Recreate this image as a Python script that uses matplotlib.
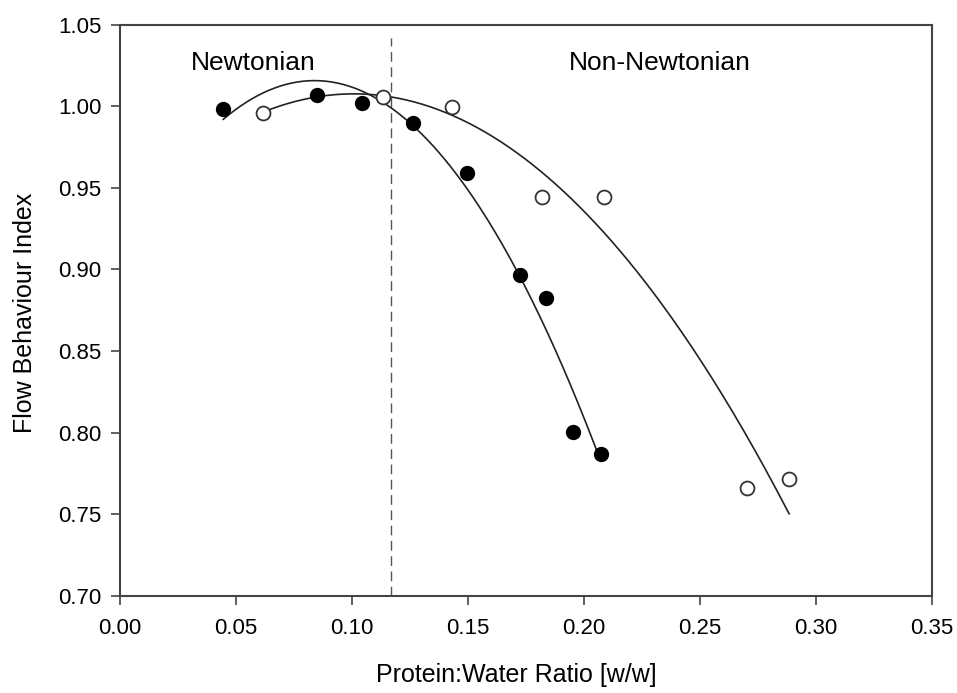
import numpy as np
import matplotlib
matplotlib.use("Agg")
import matplotlib.pyplot as plt

plt.rcParams['font.family'] = ['Liberation Sans', 'DejaVu Sans']

# Filled series
filled_x = [0.0445, 0.0848, 0.1042, 0.1262, 0.1494, 0.1724, 0.1836, 0.1951, 0.2072]
filled_y = [0.998, 1.0068, 1.0021, 0.9895, 0.9592, 0.8966, 0.8827, 0.8006, 0.7868]
# Open series
open_x = [0.0618, 0.1135, 0.1430, 0.1820, 0.2086, 0.2701, 0.2884]
open_y = [0.9956, 1.0054, 0.9997, 0.9446, 0.9446, 0.7660, 0.7717]

boundary_x = 0.1166
region_labels = ["Newtonian", "Non-Newtonian"]
xticks = [0.00, 0.05, 0.10, 0.15, 0.20, 0.25, 0.30, 0.35]
yticks = [0.70, 0.75, 0.80, 0.85, 0.90, 0.95, 1.00, 1.05]

fig = plt.figure(figsize=(9.57, 6.93), dpi=100)
ax = fig.add_axes([0.1254, 0.14, 0.8485, 0.8246])

def fit_curve(x, y):
    c = np.polyfit(x, y, 2)
    xs = np.linspace(min(x), max(x), 200)
    return xs, np.polyval(c, xs)

xs, ys = fit_curve(filled_x, filled_y)
ax.plot(xs, ys, color='#222222', lw=1.2, zorder=2)
xs, ys = fit_curve(open_x, open_y)
ax.plot(xs, ys, color='#222222', lw=1.2, zorder=2)

ax.plot(filled_x, filled_y, 'o', ms=10, mfc='black', mec='black', zorder=3)
ax.plot(open_x, open_y, 'o', ms=10, mfc='white', mec='#333333', mew=1.3, zorder=3)

ax.plot([boundary_x, boundary_x], [0.70, 1.0417], color='#555555', lw=1.0,
        dashes=(7, 4), zorder=1)

ax.text(0.0575, 1.0221, region_labels[0], ha='center', va='baseline', fontsize=19)
ax.text(0.2325, 1.0221, region_labels[1], ha='center', va='baseline', fontsize=19)

ax.set_xlim(0, 0.35)
ax.set_ylim(0.70, 1.05)
ax.set_xticks(xticks)
ax.set_yticks(yticks)
ax.set_xticklabels([f"{v:.2f}" for v in xticks])
ax.set_yticklabels([f"{v:.2f}" for v in yticks])
ax.tick_params(axis='both', direction='out', length=6.5, width=1.2, color='#444444',
               labelsize=16)
ax.tick_params(axis='x', pad=9)
ax.tick_params(axis='y', pad=7)
for s in ax.spines.values():
    s.set_color('#444444')
    s.set_linewidth(1.5)

ax.set_xlabel("Protein:Water Ratio [w/w]", fontsize=18)
ax.set_ylabel("Flow Behaviour Index", fontsize=18)
ax.xaxis.set_label_coords(0.488, -0.118)
ax.yaxis.set_label_coords(-0.102, 0.495)

fig.savefig("out.png", dpi=100)
